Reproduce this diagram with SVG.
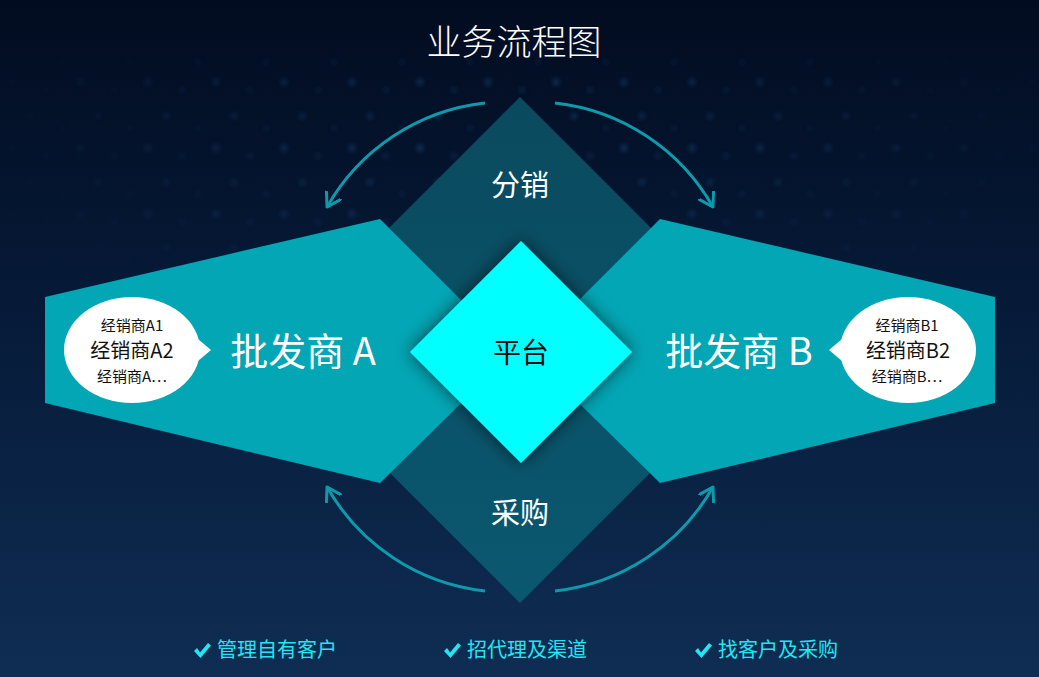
<svg xmlns="http://www.w3.org/2000/svg" width="1039" height="677" viewBox="0 0 1039 677">
  <defs>
    <linearGradient id="bg" x1="0" y1="0" x2="0" y2="1">
      <stop offset="0" stop-color="#020c20"/>
      <stop offset="0.45" stop-color="#061a38"/>
      <stop offset="1" stop-color="#0f2d53"/>
    </linearGradient>
    <linearGradient id="dia" x1="0" y1="0" x2="0" y2="1">
      <stop offset="0" stop-color="#0a4a5e"/>
      <stop offset="1" stop-color="#0a5870"/>
    </linearGradient>
    <radialGradient id="dotfade" cx="0.5" cy="0.3" r="0.55">
      <stop offset="0" stop-color="#fff" stop-opacity="1"/>
      <stop offset="0.6" stop-color="#fff" stop-opacity="0.45"/>
      <stop offset="1" stop-color="#fff" stop-opacity="0"/>
    </radialGradient>
    <mask id="dotmask">
      <rect x="0" y="0" width="1039" height="440" fill="url(#dotfade)"/>
    </mask>
    <pattern id="dots" x="4" y="10" width="68" height="66" patternUnits="userSpaceOnUse">
      <circle cx="8" cy="6" r="3" fill="#2f72bb"/>
      <circle cx="42" cy="14" r="2.2" fill="#2a63a6"/>
      <circle cx="26" cy="40" r="2.6" fill="#2f72bb"/>
      <circle cx="58" cy="52" r="2" fill="#26599a"/>
    </pattern>
    <filter id="blur" x="-5%" y="-5%" width="110%" height="110%">
      <feGaussianBlur stdDeviation="2.4"/>
    </filter>
    <filter id="shadow" x="-30%" y="-30%" width="160%" height="160%">
      <feGaussianBlur in="SourceAlpha" stdDeviation="9"/>
      <feComponentTransfer><feFuncA type="linear" slope="0.6"/></feComponentTransfer>
      <feMerge><feMergeNode/><feMergeNode in="SourceGraphic"/></feMerge>
    </filter>
    <marker id="arrow" markerUnits="userSpaceOnUse" markerWidth="20" markerHeight="20" refX="14" refY="9" orient="auto">
      <path d="M1,1 L14,9 L1,17" fill="none" stroke="#0e9aab" stroke-width="3" stroke-linecap="round" stroke-linejoin="round"/>
    </marker>
    <path id="tick" d="M0,8 L3,5 L6,9.5 L14,0 L17,2.5 L6.5,15 Z"/>
    <style>
      .cjk { font-family: "Noto Sans CJK SC", "Noto Sans", sans-serif; }
      .lbl { fill: #ffffff; text-anchor: middle; }
      .sub { fill: #111111; text-anchor: middle; }
      .foot { fill: #22e6f2; font-size: 20px; }
      .check { fill: #22e6f2; }
      .conn { fill: none; stroke: #0e9aab; stroke-width: 3; marker-end: url(#arrow); }
      .penta { fill: #03a6b5; }
      .bubble { fill: #ffffff; }
    </style>
  </defs>

  <!-- background -->
  <rect x="0" y="0" width="1039" height="677" fill="url(#bg)"/>
  <g mask="url(#dotmask)" opacity="0.5">
    <rect x="0" y="60" width="1039" height="380" fill="url(#dots)" filter="url(#blur)"/>
  </g>

  <!-- title -->
  <text class="cjk lbl" x="514" y="55" font-size="35" font-weight="300">业务流程图</text>

  <!-- big background diamond -->
  <g id="channel">
    <polygon points="520,97 773,350 520,603 267,350" fill="url(#dia)"/>
    <text class="cjk lbl" x="520" y="196" font-size="29">分销</text>
    <text class="cjk lbl" x="520" y="524" font-size="29">采购</text>
  </g>

  <!-- wholesaler A -->
  <g id="wholesaler-a">
    <polygon class="penta" points="45,297 380,219 513,352 380,483 45,403"/>
    <text class="cjk lbl" x="303" y="365" font-size="38">批发商 A</text>
  </g>
  <g id="dealers-a">
    <polygon class="bubble" points="192,334 211,350 192,366"/>
    <ellipse class="bubble" cx="132" cy="350" rx="68" ry="53"/>
    <text class="cjk sub" x="132" y="331" font-size="15">经销商A1</text>
    <text class="cjk sub" x="132" y="358" font-size="20">经销商A2</text>
    <text class="cjk sub" x="132" y="382" font-size="15">经销商A⋯</text>
  </g>

  <!-- wholesaler B -->
  <g id="wholesaler-b">
    <polygon class="penta" points="995,297 660,219 527,352 660,483 995,403"/>
    <text class="cjk lbl" x="739" y="365" font-size="38">批发商 B</text>
  </g>
  <g id="dealers-b">
    <polygon class="bubble" points="848,334 829,350 848,366"/>
    <ellipse class="bubble" cx="908" cy="350" rx="68" ry="53"/>
    <text class="cjk sub" x="907" y="331" font-size="15">经销商B1</text>
    <text class="cjk sub" x="908" y="358" font-size="20">经销商B2</text>
    <text class="cjk sub" x="907" y="382" font-size="15">经销商B⋯</text>
  </g>

  <!-- platform -->
  <g id="platform">
    <polygon points="521,241 632,352 521,463 410,352" fill="#00ffff" filter="url(#shadow)"/>
    <text class="cjk sub" x="521" y="363" font-size="28">平台</text>
  </g>

  <!-- connectors -->
  <g id="connectors">
    <path class="conn" d="M485,103 A208,208 0 0 0 327,207"/>
    <path class="conn" d="M555,103 A208,208 0 0 1 713,207"/>
    <path class="conn" d="M485,591 A208,208 0 0 1 327,487"/>
    <path class="conn" d="M555,591 A208,208 0 0 0 713,487"/>
  </g>

  <!-- footer -->
  <g id="footer-1">
    <use class="check" href="#tick" x="194" y="643"/>
    <text class="cjk foot" x="217" y="657">管理自有客户</text>
  </g>
  <g id="footer-2">
    <use class="check" href="#tick" x="444" y="643"/>
    <text class="cjk foot" x="467" y="657">招代理及渠道</text>
  </g>
  <g id="footer-3">
    <use class="check" href="#tick" x="695" y="643"/>
    <text class="cjk foot" x="718" y="657">找客户及采购</text>
  </g>
</svg>
